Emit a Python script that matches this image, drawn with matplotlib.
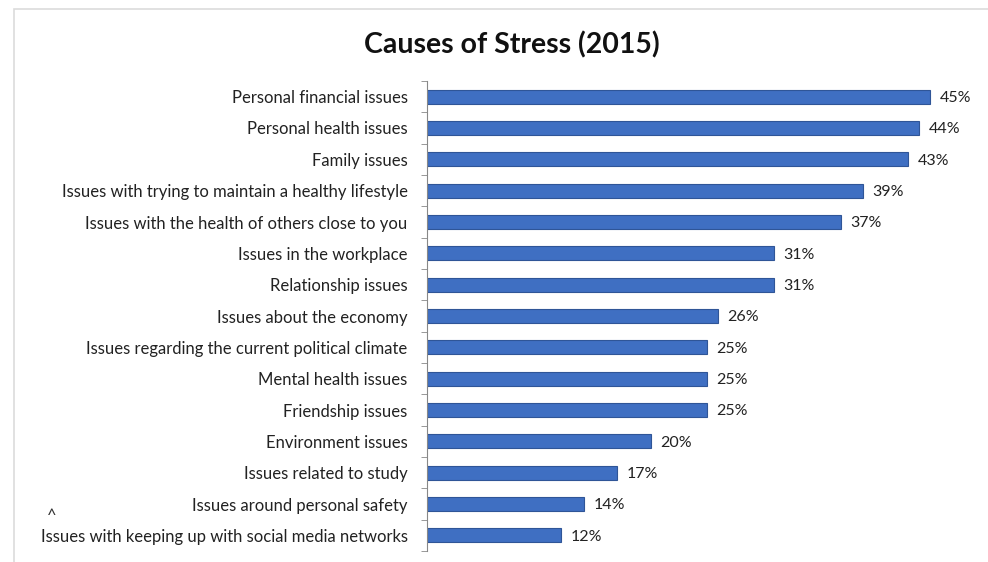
import matplotlib.pyplot as plt
from matplotlib.patches import Rectangle

causes = [
    "Personal financial issues",
    "Personal health issues",
    "Family issues",
    "Issues with trying to maintain a healthy lifestyle",
    "Issues with the health of others close to you",
    "Issues in the workplace",
    "Relationship issues",
    "Issues about the economy",
    "Issues regarding the current political climate",
    "Mental health issues",
    "Friendship issues",
    "Environment issues",
    "Issues related to study",
    "Issues around personal safety",
    "Issues with keeping up with social media networks",
]
percent = [45, 44, 43, 39, 37, 31, 31, 26, 25, 25, 25, 20, 17, 14, 12]

plt.rcParams["font.family"] = ["Lato", "DejaVu Sans"]

fig = plt.figure(figsize=(9.88, 5.62), dpi=100)
fig.patch.set_facecolor("white")

# light frame around the chart area
fig.patches.append(Rectangle((14 / 988, -0.05), 1.0, 1 - 9 / 562 + 0.05,
                             transform=fig.transFigure, fill=False,
                             edgecolor="#dcdcdc", linewidth=1.2))

ax = fig.add_axes([427 / 988, 11 / 562, 559 / 988, 470 / 562])

y = list(range(len(causes)))
ax.barh(y, percent, height=0.45, color="#3F6FC2", edgecolor="#2F5597", linewidth=0.8)
ax.set_ylim(len(causes) - 0.5, -0.5)
ax.set_xlim(0, 50)

ax.set_yticks(y)
ax.set_yticklabels(causes, fontsize=12, color="#222222")
ax.tick_params(axis="y", which="major", length=0, pad=14)
ax.set_yticks([i - 0.5 for i in range(len(causes) + 1)], minor=True)
ax.tick_params(axis="y", which="minor", length=4, color="#888888")
ax.set_xticks([])

for side in ["top", "right", "bottom"]:
    ax.spines[side].set_visible(False)
ax.spines["left"].set_color("#888888")

for yi, v in zip(y, percent):
    ax.annotate(f"{v}%", (v, yi), xytext=(7, -1), textcoords="offset points",
                va="center", ha="left", fontsize=11.5, color="#222222")

fig.text(512 / 988, 1 - 45 / 562, "Causes of Stress (2015)", ha="center", va="center",
         fontsize=20.5, fontweight="bold", color="#111111")
fig.text(52 / 988, 1 - 516 / 562, "^", ha="center", va="center", fontsize=12, color="#333333")

fig.savefig("out.png", dpi=100)
